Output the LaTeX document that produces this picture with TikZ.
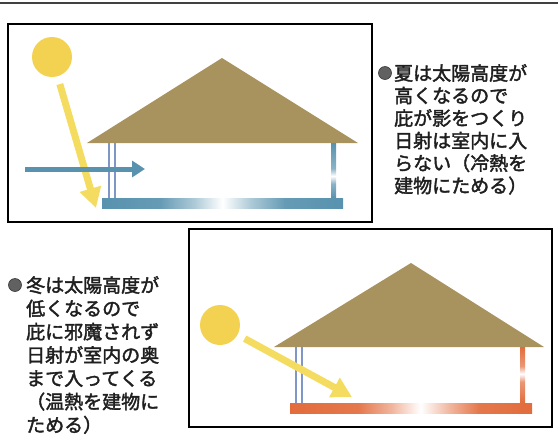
\documentclass[tikz,border=0pt]{standalone}
\usepackage{fontspec}
\newfontfamily\jpfont[FakeBold=2]{Noto Sans CJK JP}
\usepackage{tikz}
\usetikzlibrary{arrows.meta, positioning}
\usepackage{xcolor}

\definecolor{sunyellow}{RGB}{242,210,80}
\definecolor{rayyellow}{RGB}{244,220,96}
\definecolor{roofbrown}{RGB}{168,146,94}
\definecolor{coolblue}{RGB}{88,146,174}
\definecolor{warmorange}{RGB}{226,108,60}
\definecolor{sashblue}{RGB}{128,150,200}

% floors and posts fade to white in the middle
\pgfdeclarehorizontalshading{floorcool}{100bp}{color(0bp)=(coolblue); color(25bp)=(coolblue); color(37bp)=(coolblue!92); color(44bp)=(coolblue!50); color(50bp)=(white); color(56bp)=(coolblue!50); color(63bp)=(coolblue!92); color(75bp)=(coolblue); color(100bp)=(coolblue)}
\pgfdeclarehorizontalshading{floorwarm}{100bp}{color(0bp)=(warmorange); color(25bp)=(warmorange); color(39bp)=(warmorange!92); color(46bp)=(warmorange!50); color(52bp)=(white); color(58bp)=(warmorange!50); color(64bp)=(warmorange!92); color(75bp)=(warmorange); color(100bp)=(warmorange)}
\pgfdeclareverticalshading{postcool}{100bp}{color(0bp)=(coolblue); color(25bp)=(coolblue); color(38bp)=(coolblue!70); color(45bp)=(white); color(52bp)=(coolblue!70); color(75bp)=(coolblue); color(100bp)=(coolblue)}
\pgfdeclareverticalshading{postwarm}{100bp}{color(0bp)=(warmorange); color(25bp)=(warmorange); color(44bp)=(warmorange!70); color(51bp)=(white); color(58bp)=(warmorange!70); color(75bp)=(warmorange); color(100bp)=(warmorange)}

\tikzset{
  panel/.style={draw=black, line width=1.4pt},
  roof/.style={fill=roofbrown},
  sun/.style={circle, fill=sunyellow, minimum size=40pt, inner sep=0pt},
  ray/.style={draw=rayyellow, line width=7pt, -{Triangle[width=21pt,length=20pt]}},
  wind/.style={draw=coolblue, line width=5pt, -{Triangle[width=16pt,length=13pt]}},
  sash/.style={draw=sashblue, line width=1.2pt},
  dot/.style={circle, fill=black!62, draw=black!78, line width=0.6pt, minimum size=13pt, inner sep=0pt},
  note/.style={align=left, anchor=north west, inner sep=0pt, text=black!88, font=\jpfont\fontsize{19pt}{22.5pt}\selectfont},
}

\begin{document}
\begin{tikzpicture}[x=1pt, y=-1pt]
  \useasboundingbox (0,0) rectangle (558,437);
  \draw [line width=2pt, draw=black!75] (0,3) -- (558,3);

  % summer: high sun, eaves shade the room
  \draw [panel] (8,24) rectangle (372,222);
  \fill [roof] (87,143) -- (222,58) -- (358,143) -- cycle;
  \draw [sash] (109,143) -- (109,198);
  \draw [sash] (115,143) -- (115,198);
  \shade [shading=postcool] (331,143) rectangle (336,198);
  \shade [shading=floorcool] (102,198) rectangle (343,208);
  \node [sun] (sunS) at (52,57) {};
  \coordinate (hitS) at (96,208);
  \draw [ray, shorten <=8pt] (sunS.-74) -- (hitS);
  \coordinate (windS) at (25,169);
  \coordinate (windE) at (145,169);
  \draw [wind] (windS) -- (windE);

  \node [dot] (dotS) at (385,73) {};
  \node [note] (textS) at (394,64) {夏は太陽高度が\\高くなるので\\庇が影をつくり\\日射は室内に入\\らない（冷熱を\\建物にためる）};

  % winter: low sun reaches deep inside
  \draw [panel] (189,229) rectangle (552,427);
  \fill [roof] (274,347) -- (411,263) -- (544,347) -- cycle;
  \draw [sash] (296,347) -- (296,403);
  \draw [sash] (302,347) -- (302,403);
  \shade [shading=postwarm] (520,347) rectangle (525,403);
  \shade [shading=floorwarm] (290,403) rectangle (532,413);
  \node [sun] (sunW) at (220,325) {};
  \coordinate (hitW) at (352,397);
  \draw [ray, shorten <=8pt] (sunW.-29) -- (hitW);

  \node [dot] (dotW) at (15,285) {};
  \node [note, font=\jpfont\fontsize{19pt}{23.3pt}\selectfont] (textW) at (26,276) {冬は太陽高度が\\低くなるので\\庇に邪魔されず\\日射が室内の奥\\まで入ってくる\\（温熱を建物に\\ためる）};
\end{tikzpicture}
\end{document}
